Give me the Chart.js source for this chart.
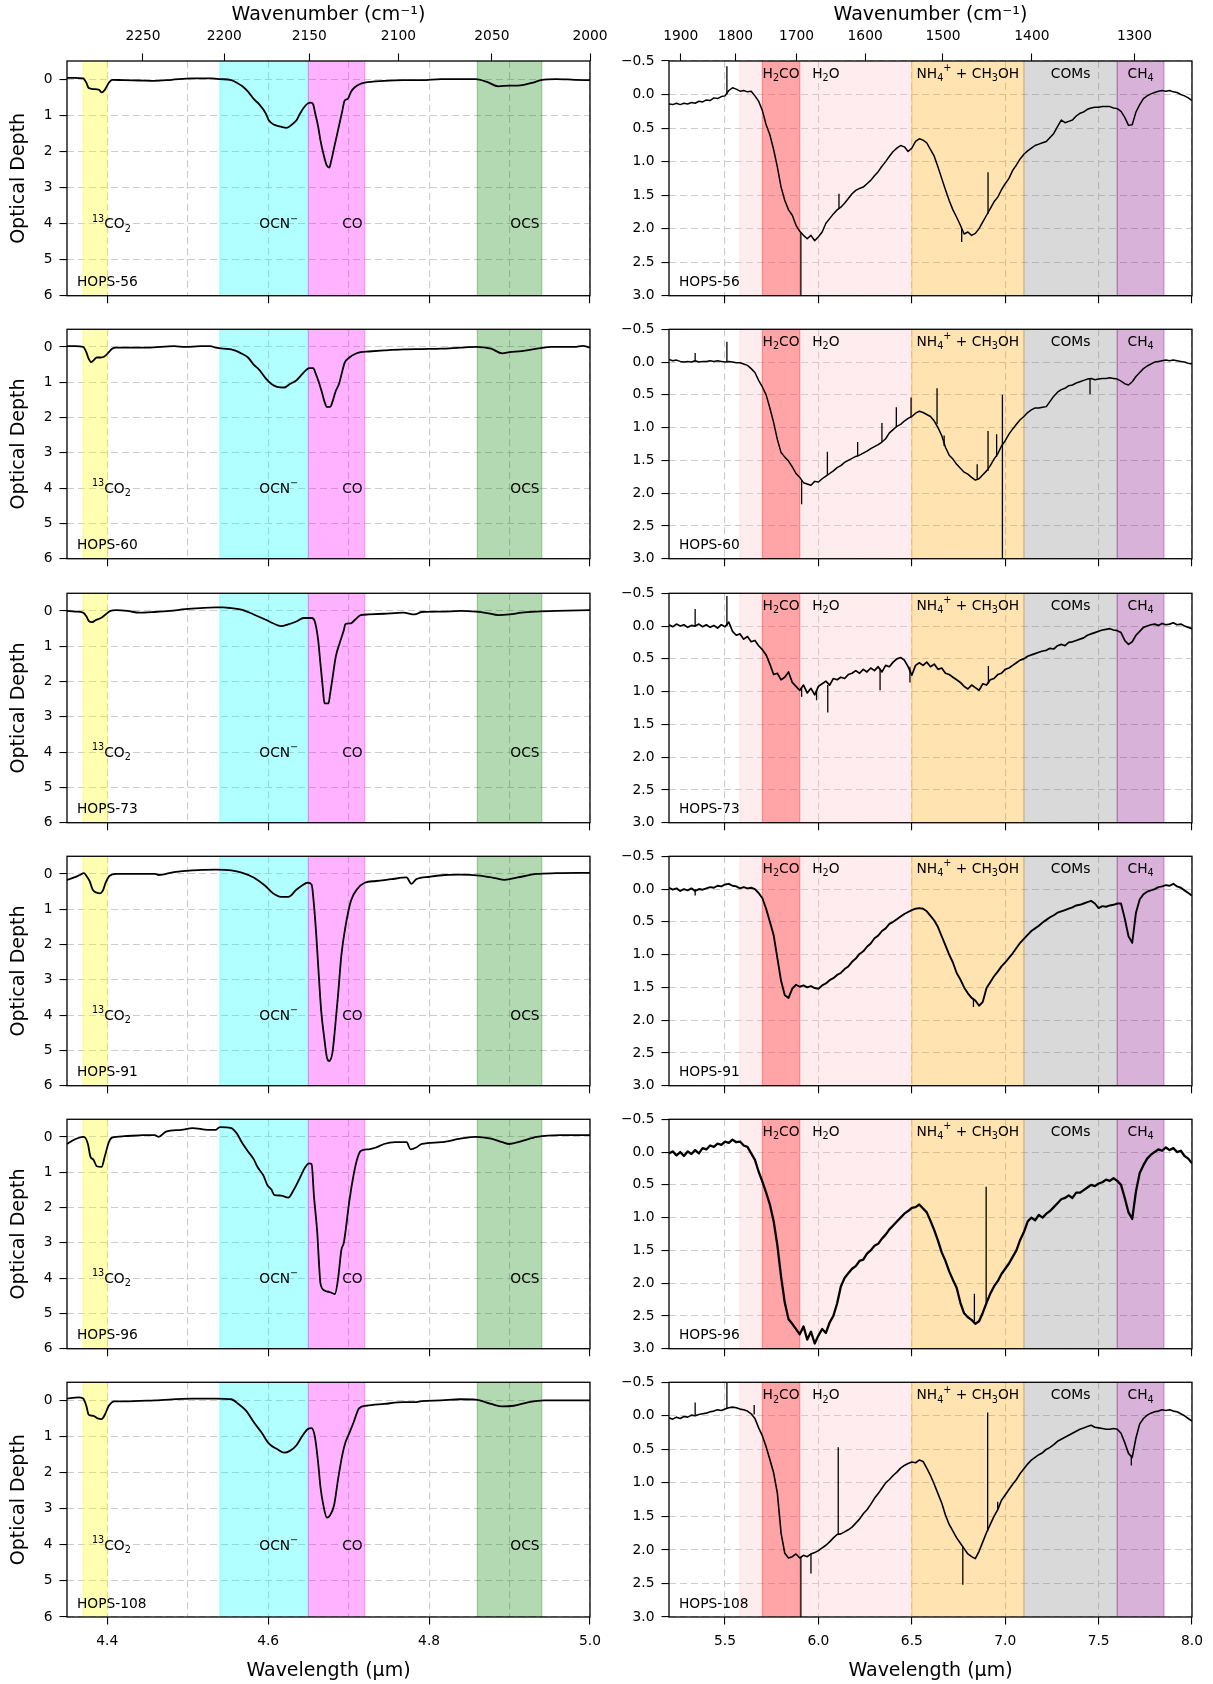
<!DOCTYPE html>
<html>
<head>
<meta charset="utf-8">
<title>Ice absorption features, HOPS protostars</title>
<script src="https://cdn.jsdelivr.net/npm/chart.js@4.4.0/dist/chart.umd.min.js"></script>
<style>
  body { margin: 0; background: #fff; }
  #figure { position: relative; width: 1213px; height: 1684px; background: #fff; overflow: hidden; }
  #figure canvas { position: absolute; }
</style>
</head>
<body>
<div id="figure"></div>
<script>
// Sources, one row each
const sources = ['HOPS-56', 'HOPS-60', 'HOPS-73', 'HOPS-91', 'HOPS-96', 'HOPS-108'];

// Axis ticks
const shortGridTicks = [4.4, 4.5, 4.6, 4.7, 4.8, 4.9, 5.0];
const shortLabelTicks = [4.4, 4.6, 4.8, 5.0];
const longTicks = [5.5, 6.0, 6.5, 7.0, 7.5, 8.0];
const shortWavenumbers = [2250, 2200, 2150, 2100, 2050, 2000];
const longWavenumbers = [1900, 1800, 1700, 1600, 1500, 1400, 1300];
const shortDepthTicks = [0, 1, 2, 3, 4, 5, 6];
const longDepthTicks = [-0.5, 0, 0.5, 1.0, 1.5, 2.0, 2.5, 3.0];

// Ice band ranges (micron) and their labels (_x = subscript, ^x = superscript)
const shortBands = [[4.37, 4.40], [4.54, 4.65], [4.65, 4.72], [4.86, 4.94]];
const shortBandNames = ['^{13}CO_2', 'OCN^\u2212', 'CO', 'OCS'];
const shortLabelX = [4.381, 4.589, 4.692, 4.901];
const longBands = [[5.58, 6.5], [5.7, 5.9], [6.5, 7.1], [7.1, 7.6], [7.6, 7.85]];
const longBandNames = ['H_2O', 'H_2CO', 'NH_4^+ + CH_3OH', 'COMs', 'CH_4'];

// 4.35 - 5.0 micron spectra
const shortWave56 = [4.35, 4.36, 4.37, 4.374, 4.377, 4.383, 4.39, 4.393, 4.397, 4.402, 4.406, 4.42, 4.44, 4.459, 4.48, 4.506, 4.53, 4.54, 4.554, 4.561, 4.568, 4.575, 4.582, 4.589, 4.597, 4.601, 4.608, 4.616, 4.623, 4.63, 4.635, 4.639, 4.644, 4.649, 4.653, 4.656, 4.658, 4.662, 4.665, 4.669, 4.673, 4.676, 4.678, 4.682, 4.687, 4.692, 4.695, 4.699, 4.703, 4.708, 4.713, 4.72, 4.744, 4.768, 4.791, 4.815, 4.839, 4.858, 4.872, 4.886, 4.9, 4.91, 4.92, 4.929, 4.939, 4.958, 4.981, 5.0];
const shortDepth56 = [-0.03, -0.03, -0.02, 0.1, 0.25, 0.28, 0.3, 0.37, 0.3, 0.1, 0.02, 0.03, 0.04, 0.05, 0.02, -0.02, -0.02, 0.0, 0.03, 0.1, 0.2, 0.35, 0.55, 0.7, 0.95, 1.15, 1.27, 1.32, 1.35, 1.25, 1.15, 0.98, 0.8, 0.68, 0.65, 0.7, 0.9, 1.3, 1.7, 2.1, 2.4, 2.45, 2.3, 1.9, 1.4, 0.9, 0.6, 0.55, 0.35, 0.22, 0.15, 0.1, 0.05, 0.03, 0.03, 0.0, 0.0, 0.0, 0.08, 0.2, 0.18, 0.18, 0.15, 0.1, 0.03, 0.0, 0.02, 0.03];

const shortWave60 = [4.35, 4.36, 4.37, 4.374, 4.377, 4.38, 4.383, 4.387, 4.392, 4.396, 4.402, 4.406, 4.411, 4.45, 4.483, 4.497, 4.516, 4.528, 4.535, 4.544, 4.554, 4.561, 4.568, 4.575, 4.582, 4.589, 4.597, 4.604, 4.611, 4.62, 4.627, 4.635, 4.642, 4.646, 4.651, 4.656, 4.659, 4.663, 4.667, 4.67, 4.673, 4.677, 4.68, 4.684, 4.688, 4.692, 4.695, 4.701, 4.708, 4.715, 4.725, 4.744, 4.768, 4.791, 4.815, 4.839, 4.858, 4.877, 4.891, 4.9, 4.915, 4.934, 4.953, 4.981, 4.991, 5.0];
const shortDepth60 = [-0.02, -0.02, 0.0, 0.15, 0.34, 0.43, 0.38, 0.3, 0.3, 0.28, 0.15, 0.05, 0.02, 0.02, -0.02, 0.0, -0.02, -0.02, 0.02, 0.05, 0.07, 0.12, 0.2, 0.3, 0.5, 0.65, 0.89, 1.05, 1.13, 1.15, 1.05, 0.95, 0.78, 0.68, 0.6, 0.6, 0.75, 1.0, 1.3, 1.55, 1.7, 1.7, 1.55, 1.25, 1.05, 0.7, 0.45, 0.3, 0.2, 0.15, 0.13, 0.1, 0.07, 0.06, 0.05, 0.02, 0.0, 0.05, 0.18, 0.15, 0.12, 0.05, 0.0, 0.0, -0.03, 0.02];

const shortWave73 = [4.35, 4.36, 4.37, 4.374, 4.377, 4.381, 4.385, 4.392, 4.398, 4.404, 4.411, 4.425, 4.44, 4.459, 4.478, 4.497, 4.516, 4.535, 4.544, 4.554, 4.568, 4.582, 4.597, 4.606, 4.616, 4.625, 4.635, 4.644, 4.654, 4.658, 4.662, 4.665, 4.668, 4.67, 4.675, 4.677, 4.68, 4.684, 4.689, 4.694, 4.696, 4.703, 4.708, 4.715, 4.725, 4.744, 4.768, 4.782, 4.791, 4.815, 4.839, 4.858, 4.872, 4.886, 4.9, 4.915, 4.934, 4.958, 5.0];
const shortDepth73 = [0.0, 0.02, 0.05, 0.15, 0.28, 0.32, 0.27, 0.2, 0.1, 0.0, -0.02, 0.0, 0.05, 0.03, 0.0, -0.05, -0.08, -0.1, -0.1, -0.08, -0.03, 0.1, 0.25, 0.35, 0.43, 0.38, 0.3, 0.2, 0.2, 0.3, 0.8, 1.5, 2.2, 2.62, 2.62, 2.35, 1.9, 1.3, 0.9, 0.55, 0.37, 0.35, 0.25, 0.12, 0.1, 0.08, 0.05, 0.1, 0.03, 0.02, 0.0, 0.02, 0.06, 0.12, 0.1, 0.05, 0.02, 0.0, -0.02];

const shortWave91 = [4.35, 4.359, 4.366, 4.371, 4.374, 4.378, 4.382, 4.387, 4.391, 4.395, 4.398, 4.403, 4.411, 4.43, 4.459, 4.464, 4.483, 4.506, 4.535, 4.554, 4.568, 4.582, 4.597, 4.606, 4.616, 4.625, 4.635, 4.644, 4.649, 4.654, 4.657, 4.66, 4.663, 4.666, 4.67, 4.673, 4.676, 4.68, 4.683, 4.687, 4.691, 4.696, 4.703, 4.711, 4.72, 4.734, 4.753, 4.772, 4.778, 4.784, 4.801, 4.82, 4.839, 4.863, 4.882, 4.894, 4.91, 4.934, 4.958, 5.0];
const shortDepth91 = [0.17, 0.1, 0.03, -0.02, 0.05, 0.2, 0.45, 0.53, 0.55, 0.45, 0.25, 0.05, 0.0, 0.0, 0.0, 0.03, -0.05, -0.1, -0.12, -0.1, -0.03, 0.1, 0.35, 0.55, 0.65, 0.65, 0.45, 0.3, 0.25, 0.3, 0.9, 1.8, 2.9, 3.9, 4.7, 5.2, 5.3, 5.05, 4.4, 3.4, 2.3, 1.5, 0.75, 0.42, 0.25, 0.2, 0.15, 0.1, 0.28, 0.15, 0.08, 0.03, 0.02, 0.05, 0.12, 0.17, 0.1, 0.0, -0.02, -0.03];

const shortWave96 = [4.35, 4.357, 4.364, 4.371, 4.376, 4.379, 4.383, 4.387, 4.393, 4.397, 4.402, 4.406, 4.421, 4.445, 4.459, 4.464, 4.473, 4.492, 4.506, 4.525, 4.535, 4.54, 4.554, 4.561, 4.568, 4.575, 4.582, 4.587, 4.594, 4.599, 4.604, 4.608, 4.616, 4.625, 4.632, 4.639, 4.646, 4.651, 4.654, 4.657, 4.661, 4.663, 4.665, 4.67, 4.677, 4.683, 4.687, 4.691, 4.694, 4.696, 4.701, 4.706, 4.711, 4.715, 4.725, 4.734, 4.744, 4.758, 4.772, 4.777, 4.784, 4.791, 4.815, 4.839, 4.858, 4.877, 4.891, 4.9, 4.915, 4.934, 4.963, 5.0];
const shortDepth96 = [0.2, 0.1, 0.03, 0.0, 0.2, 0.55, 0.65, 0.83, 0.85, 0.55, 0.15, 0.02, -0.02, -0.05, -0.05, 0.0, -0.15, -0.2, -0.25, -0.2, -0.2, -0.28, -0.25, -0.1, 0.18, 0.41, 0.63, 0.86, 1.09, 1.36, 1.49, 1.65, 1.66, 1.72, 1.49, 1.18, 0.86, 0.75, 0.77, 1.7, 2.7, 3.5, 4.15, 4.35, 4.4, 4.45, 4.0, 3.2, 3.0, 2.7, 1.8, 1.1, 0.6, 0.4, 0.35, 0.3, 0.2, 0.15, 0.15, 0.35, 0.3, 0.2, 0.15, 0.05, 0.0, 0.05, 0.15, 0.2, 0.12, 0.0, -0.05, -0.05];

const shortWave108 = [4.35, 4.364, 4.37, 4.374, 4.377, 4.383, 4.388, 4.393, 4.397, 4.402, 4.409, 4.421, 4.459, 4.506, 4.535, 4.554, 4.563, 4.573, 4.582, 4.592, 4.601, 4.611, 4.62, 4.627, 4.635, 4.642, 4.649, 4.654, 4.658, 4.662, 4.665, 4.669, 4.673, 4.677, 4.682, 4.687, 4.692, 4.696, 4.701, 4.706, 4.713, 4.722, 4.744, 4.768, 4.782, 4.791, 4.815, 4.839, 4.858, 4.877, 4.891, 4.905, 4.924, 4.943, 5.0];
const shortDepth108 = [-0.05, -0.08, -0.05, 0.15, 0.4, 0.43, 0.5, 0.52, 0.4, 0.15, 0.03, 0.03, 0.0, -0.05, -0.05, -0.03, 0.1, 0.3, 0.6, 0.9, 1.2, 1.35, 1.45, 1.4, 1.25, 1.0, 0.8, 0.77, 1.0, 1.7, 2.4, 2.95, 3.25, 3.18, 2.9, 2.17, 1.53, 1.17, 0.9, 0.62, 0.22, 0.15, 0.1, 0.05, 0.05, 0.02, 0.0, -0.03, -0.02, 0.1, 0.17, 0.15, 0.05, 0.0, 0.0];

// 5.2 - 8.0 micron spectra, sampled every 0.02 micron
const longWave = [
  5.20, 5.22, 5.24, 5.26, 5.28, 5.30, 5.32, 5.34, 5.36, 5.38,
  5.40, 5.42, 5.44, 5.46, 5.48, 5.50, 5.52, 5.54, 5.56, 5.58,
  5.60, 5.62, 5.64, 5.66, 5.68, 5.70, 5.72, 5.74, 5.76, 5.78,
  5.80, 5.82, 5.84, 5.86, 5.88, 5.90, 5.92, 5.94, 5.96, 5.98,
  6.00, 6.02, 6.04, 6.06, 6.08, 6.10, 6.12, 6.14, 6.16, 6.18,
  6.20, 6.22, 6.24, 6.26, 6.28, 6.30, 6.32, 6.34, 6.36, 6.38,
  6.40, 6.42, 6.44, 6.46, 6.48, 6.50, 6.52, 6.54, 6.56, 6.58,
  6.60, 6.62, 6.64, 6.66, 6.68, 6.70, 6.72, 6.74, 6.76, 6.78,
  6.80, 6.82, 6.84, 6.86, 6.88, 6.90, 6.92, 6.94, 6.96, 6.98,
  7.00, 7.02, 7.04, 7.06, 7.08, 7.10, 7.12, 7.14, 7.16, 7.18,
  7.20, 7.22, 7.24, 7.26, 7.28, 7.30, 7.32, 7.34, 7.36, 7.38,
  7.40, 7.42, 7.44, 7.46, 7.48, 7.50, 7.52, 7.54, 7.56, 7.58,
  7.60, 7.62, 7.64, 7.66, 7.68, 7.70, 7.72, 7.74, 7.76, 7.78,
  7.80, 7.82, 7.84, 7.86, 7.88, 7.90, 7.92, 7.94, 7.96, 7.98,
  8.00
];

const longDepth56 = [
  0.14, 0.15, 0.13, 0.15, 0.13, 0.14, 0.12, 0.13, 0.10, 0.11,
  0.08, 0.09, 0.05, 0.06, 0.03, 0.02, -0.06, -0.10, -0.08, -0.05,
  -0.06, -0.04, -0.05, 0.02, 0.10, 0.24, 0.45, 0.60, 0.82, 1.08,
  1.38, 1.58, 1.72, 1.80, 1.95, 2.04, 2.10, 2.15, 2.10, 2.18,
  2.12, 2.05, 1.92, 1.85, 1.78, 1.72, 1.68, 1.62, 1.55, 1.48,
  1.43, 1.40, 1.38, 1.33, 1.28, 1.21, 1.15, 1.07, 1.00, 0.92,
  0.85, 0.80, 0.76, 0.78, 0.85, 0.80, 0.70, 0.66, 0.68, 0.72,
  0.82, 0.92, 1.08, 1.25, 1.42, 1.58, 1.72, 1.83, 1.95, 2.08,
  2.05, 2.10, 2.07, 2.00, 1.90, 1.80, 1.70, 1.60, 1.53, 1.42,
  1.33, 1.25, 1.13, 1.05, 0.96, 0.89, 0.84, 0.80, 0.76, 0.74,
  0.72, 0.70, 0.64, 0.58, 0.48, 0.38, 0.42, 0.40, 0.38, 0.32,
  0.28, 0.26, 0.22, 0.20, 0.19, 0.19, 0.18, 0.18, 0.18, 0.20,
  0.21, 0.25, 0.34, 0.46, 0.45, 0.26, 0.15, 0.06, 0.02, -0.01,
  -0.03, -0.05, -0.06, -0.05, -0.06, -0.04, -0.03, 0.00, 0.02, 0.05,
  0.09
];

const longDepth60 = [
  -0.04, -0.02, -0.03, -0.01, 0.00, -0.01, 0.00, -0.02, 0.00, -0.01,
  -0.01, -0.02, -0.01, -0.02, -0.01, 0.00, -0.01, 0.00, 0.01, 0.01,
  0.03, 0.05, 0.10, 0.16, 0.28, 0.38, 0.50, 0.70, 0.92, 1.18,
  1.38, 1.45, 1.51, 1.60, 1.70, 1.76, 1.84, 1.86, 1.88, 1.82,
  1.83, 1.78, 1.74, 1.70, 1.66, 1.61, 1.58, 1.53, 1.50, 1.47,
  1.44, 1.42, 1.39, 1.36, 1.32, 1.29, 1.26, 1.22, 1.17, 1.08,
  1.03, 0.98, 0.95, 0.90, 0.86, 0.83, 0.78, 0.75, 0.77, 0.80,
  0.83, 0.90, 1.00, 1.12, 1.30, 1.42, 1.48, 1.56, 1.62, 1.68,
  1.71, 1.76, 1.80, 1.78, 1.72, 1.66, 1.58, 1.48, 1.40, 1.28,
  1.20, 1.10, 1.02, 0.95, 0.88, 0.83, 0.77, 0.73, 0.70, 0.70,
  0.69, 0.68, 0.60, 0.52, 0.46, 0.42, 0.40, 0.36, 0.35, 0.32,
  0.30, 0.28, 0.26, 0.25, 0.27, 0.26, 0.25, 0.25, 0.24, 0.25,
  0.26, 0.29, 0.33, 0.35, 0.30, 0.22, 0.16, 0.10, 0.06, 0.03,
  0.00, -0.01, -0.02, -0.03, -0.02, -0.03, -0.02, -0.01, 0.00, 0.02,
  0.03
];

const longDepth73 = [
  -0.02, 0.01, -0.03, 0.00, -0.02, 0.02, -0.01, 0.00, -0.03, 0.01,
  -0.02, 0.02, -0.01, 0.03, -0.02, 0.01, -0.06, 0.08, 0.14, 0.12,
  0.20, 0.16, 0.24, 0.22, 0.30, 0.36, 0.44, 0.58, 0.74, 0.72,
  0.82, 0.78, 0.70, 0.86, 0.92, 0.98, 0.90, 1.02, 0.95, 1.05,
  0.92, 0.88, 0.84, 0.90, 0.80, 0.82, 0.78, 0.80, 0.74, 0.72,
  0.68, 0.72, 0.66, 0.70, 0.64, 0.68, 0.62, 0.70, 0.60, 0.62,
  0.55, 0.50, 0.48, 0.52, 0.62, 0.75, 0.60, 0.56, 0.60, 0.55,
  0.62, 0.58, 0.66, 0.64, 0.72, 0.74, 0.78, 0.82, 0.86, 0.92,
  0.96, 0.90, 0.94, 0.98, 0.88, 0.90, 0.82, 0.80, 0.74, 0.72,
  0.66, 0.64, 0.60, 0.56, 0.52, 0.50, 0.46, 0.44, 0.42, 0.40,
  0.38, 0.37, 0.34, 0.35, 0.30, 0.28, 0.30, 0.25, 0.24, 0.22,
  0.20, 0.18, 0.14, 0.12, 0.10, 0.08, 0.06, 0.05, 0.04, 0.06,
  0.07, 0.10, 0.22, 0.28, 0.24, 0.14, 0.08, 0.02, 0.00, -0.02,
  -0.03, -0.01, -0.04, -0.02, -0.03, -0.05, -0.02, -0.03, 0.00, 0.02,
  0.04
];

const longDepth91 = [
  -0.02, 0.01, -0.01, 0.03, 0.00, 0.02, -0.01, 0.03, 0.00, 0.01,
  -0.01, -0.03, -0.02, -0.05, -0.04, -0.07, -0.08, -0.05, -0.04, -0.01,
  -0.03, -0.01, -0.02, 0.00, 0.06, 0.14, 0.30, 0.50, 0.70, 1.05,
  1.40, 1.62, 1.66, 1.52, 1.46, 1.49, 1.47, 1.50, 1.48, 1.51,
  1.52, 1.47, 1.44, 1.39, 1.36, 1.31, 1.28, 1.22, 1.18, 1.11,
  1.06, 0.99, 0.95, 0.88, 0.83, 0.75, 0.71, 0.64, 0.60, 0.53,
  0.50, 0.46, 0.42, 0.38, 0.35, 0.32, 0.30, 0.29, 0.30, 0.34,
  0.41, 0.48, 0.58, 0.72, 0.86, 1.00, 1.12, 1.28, 1.38, 1.50,
  1.59, 1.66, 1.70, 1.78, 1.72, 1.51, 1.42, 1.33, 1.26, 1.18,
  1.12, 1.05, 0.98, 0.90, 0.82, 0.76, 0.70, 0.64, 0.60, 0.56,
  0.51, 0.47, 0.43, 0.40, 0.36, 0.34, 0.32, 0.30, 0.28, 0.25,
  0.24, 0.22, 0.20, 0.18, 0.22, 0.29, 0.26, 0.27, 0.25, 0.24,
  0.22, 0.22, 0.45, 0.72, 0.82, 0.36, 0.16, 0.08, 0.04, 0.02,
  0.00, -0.03, -0.04, -0.06, -0.05, -0.08, -0.04, -0.02, 0.02, 0.06,
  0.10
];

const longDepth96 = [
  0.02, -0.01, 0.05, 0.00, 0.06, -0.01, 0.03, -0.03, 0.02, -0.06,
  -0.04, -0.10, -0.08, -0.13, -0.11, -0.16, -0.14, -0.19, -0.15, -0.16,
  -0.10, -0.08, 0.02, 0.12, 0.30, 0.45, 0.62, 0.80, 1.05, 1.42,
  1.90, 2.30, 2.55, 2.62, 2.70, 2.78, 2.66, 2.86, 2.74, 2.92,
  2.80, 2.70, 2.76, 2.60, 2.50, 2.31, 2.05, 1.92, 1.85, 1.78,
  1.74, 1.66, 1.64, 1.55, 1.50, 1.43, 1.40, 1.32, 1.26, 1.18,
  1.12, 1.06, 1.00, 0.94, 0.90, 0.85, 0.84, 0.80, 0.86, 0.92,
  1.05, 1.19, 1.35, 1.53, 1.66, 1.82, 1.95, 2.07, 2.30, 2.46,
  2.52, 2.56, 2.62, 2.58, 2.45, 2.30, 2.16, 2.05, 1.97, 1.86,
  1.78, 1.70, 1.60, 1.50, 1.34, 1.22, 1.06, 1.00, 1.04, 0.96,
  1.00, 0.94, 0.90, 0.84, 0.78, 0.72, 0.70, 0.66, 0.70, 0.62,
  0.62, 0.58, 0.54, 0.50, 0.52, 0.48, 0.46, 0.42, 0.44, 0.40,
  0.44, 0.50, 0.70, 0.92, 1.02, 0.60, 0.32, 0.20, 0.10, 0.04,
  0.00, -0.04, -0.02, -0.07, -0.03, -0.06, 0.00, -0.02, 0.06, 0.10,
  0.17
];

const longDepth108 = [
  0.03, 0.05, 0.02, 0.04, 0.01, 0.02, -0.01, 0.00, -0.02, -0.03,
  -0.04, -0.06, -0.07, -0.09, -0.08, -0.10, -0.12, -0.13, -0.12, -0.10,
  -0.09, -0.07, -0.03, 0.04, 0.18, 0.30, 0.46, 0.65, 0.85, 1.15,
  1.75, 2.05, 2.12, 2.10, 2.06, 2.12, 2.08, 2.10, 2.06, 2.04,
  2.01, 1.97, 1.93, 1.88, 1.82, 1.77, 1.76, 1.73, 1.70, 1.66,
  1.60, 1.54, 1.46, 1.40, 1.32, 1.23, 1.16, 1.08, 1.00, 0.95,
  0.89, 0.84, 0.78, 0.74, 0.71, 0.69, 0.70, 0.66, 0.68, 0.78,
  0.89, 1.02, 1.16, 1.30, 1.48, 1.62, 1.72, 1.82, 1.90, 1.98,
  2.06, 2.10, 2.13, 2.02, 1.88, 1.74, 1.62, 1.50, 1.40, 1.26,
  1.18, 1.10, 1.02, 0.95, 0.86, 0.79, 0.72, 0.66, 0.62, 0.58,
  0.55, 0.50, 0.47, 0.43, 0.38, 0.35, 0.32, 0.29, 0.26, 0.23,
  0.20, 0.18, 0.16, 0.14, 0.17, 0.18, 0.19, 0.20, 0.20, 0.19,
  0.20, 0.26, 0.40, 0.56, 0.62, 0.33, 0.12, 0.04, -0.01, -0.04,
  -0.06, -0.07, -0.09, -0.08, -0.09, -0.07, -0.06, -0.03, 0.00, 0.04,
  0.08
];

// Single-channel spikes: [wavelength, from, to]
const spikes56 = [[5.51, 0.0, -0.42], [5.906, 2.05, 3.2], [6.11, 1.7, 1.48], [6.767, 2.0, 2.2], [6.908, 1.78, 1.16]];
const spikes60 = [[5.34, -0.01, -0.14], [5.51, 0.0, -0.31], [5.91, 1.8, 2.17], [6.048, 1.72, 1.37], [6.21, 1.44, 1.22], [6.34, 1.22, 0.93], [6.417, 1.0, 0.69], [6.496, 0.84, 0.54], [6.635, 0.95, 0.4], [6.673, 1.28, 1.12], [6.85, 1.78, 1.56], [6.908, 1.66, 1.05], [6.954, 1.45, 1.1], [6.985, 0.5, 3.2], [7.454, 0.26, 0.49]];
const spikes73 = [[5.34, 0.0, -0.26], [5.51, 0.0, -0.46], [5.91, 0.95, 1.08], [5.99, 0.98, 1.13], [6.05, 0.9, 1.32], [6.33, 0.65, 0.98], [6.49, 0.62, 0.86], [6.91, 0.88, 0.61]];
const spikes91 = [[5.34, 0.0, 0.1], [6.83, 1.68, 1.8]];
const spikes96 = [[6.835, 2.58, 2.16], [6.898, 2.3, 0.53]];
const spikes108 = [[5.34, 0.0, -0.2], [5.51, -0.1, -0.49], [5.656, -0.02, -0.16], [5.906, 2.1, 3.2], [5.96, 2.06, 2.35], [6.106, 1.77, 0.47], [6.773, 1.95, 2.52], [6.906, 1.72, -0.05], [6.96, 1.4, 1.28], [7.675, 0.6, 0.74]];

const shortSeries = [
  [shortWave56, shortDepth56], [shortWave60, shortDepth60], [shortWave73, shortDepth73],
  [shortWave91, shortDepth91], [shortWave96, shortDepth96], [shortWave108, shortDepth108]
];
const longSeries = [longDepth56, longDepth60, longDepth73, longDepth91, longDepth96, longDepth108];
const longSpikes = [spikes56, spikes60, spikes73, spikes91, spikes96, spikes108];

// ---- styling and layout ----
Chart.defaults.font.family = "'DejaVu Sans', sans-serif";
Chart.defaults.color = '#000';

const FIG_H = 1684;
const ROW_TOPS = [61, 324, 588, 851, 1114, 1377];
const PLOT_H = 240;
const COLUMNS = [
  { left: 0, width: 640, plotLeft: 67, plotRight: 590 },
  { left: 600, width: 613, plotLeft: 669, plotRight: 1192 }
];
const GRID_COLOR = '#cccccc';
const TICK_FONT = { size: 13.8 };
const TITLE_FONT = { size: 19 };
const NOTE_SIZE = 13.8;
const SHORT_COLORS = ['rgba(255,255,0,0.3)', 'rgba(0,255,255,0.3)', 'rgba(255,0,255,0.3)', 'rgba(0,128,0,0.3)'];
const LONG_COLORS = ['rgba(255,192,203,0.3)', 'rgba(255,0,0,0.3)', 'rgba(255,165,0,0.3)', 'rgba(128,128,128,0.3)', 'rgba(128,0,128,0.3)'];
// noisier spectra get a heavier trace
const LONG_LINE_WIDTHS = [1.5, 1.5, 1.7, 1.9, 2.3, 1.6];

function near(list, v) {
  return list.some(t => Math.abs(t - v) < 1e-6);
}

function noteFont(size) {
  return size + "px 'DejaVu Sans', sans-serif";
}

// split "NH_4^+" style labels into normal / subscript / superscript runs
function parseLabel(s) {
  const parts = [];
  let buf = '';
  let i = 0;
  while (i < s.length) {
    const ch = s[i];
    if (ch === '_' || ch === '^') {
      if (buf) { parts.push({ text: buf, shift: 0 }); buf = ''; }
      let t;
      if (s[i + 1] === '{') {
        const end = s.indexOf('}', i);
        t = s.slice(i + 2, end);
        i = end + 1;
      } else {
        t = s[i + 1];
        i += 2;
      }
      parts.push({ text: t, shift: ch === '_' ? 1 : -1 });
    } else {
      buf += ch;
      i++;
    }
  }
  if (buf) parts.push({ text: buf, shift: 0 });
  return parts;
}

function drawLabel(ctx, label, x, yMid, align, size) {
  const parts = parseLabel(label);
  const small = size * 0.7;
  const widths = parts.map(p => {
    ctx.font = noteFont(p.shift ? small : size);
    return ctx.measureText(p.text).width;
  });
  const total = widths.reduce((a, b) => a + b, 0);
  let cx = align === 'center' ? x - total / 2 : x;
  const base = yMid + 0.36 * size;
  ctx.textAlign = 'left';
  ctx.textBaseline = 'alphabetic';
  parts.forEach((p, i) => {
    ctx.font = noteFont(p.shift ? small : size);
    const dy = p.shift === 1 ? 0.24 * size : p.shift === -1 ? -0.48 * size : 0;
    ctx.fillText(p.text, cx, base + dy);
    cx += widths[i];
  });
}

// shaded bands under the spectrum, labels + frame on top
function decorations(cfg) {
  return {
    id: 'decor',
    beforeDatasetsDraw(chart) {
      const { ctx, chartArea: a, scales: { x } } = chart;
      ctx.save();
      ctx.beginPath();
      ctx.rect(a.left, a.top, a.right - a.left, a.bottom - a.top);
      ctx.clip();
      cfg.bands.forEach((band, i) => {
        const x0 = x.getPixelForValue(band[0]);
        const x1 = x.getPixelForValue(band[1]);
        ctx.fillStyle = cfg.colors[i];
        ctx.fillRect(x0, a.top, x1 - x0, a.bottom - a.top);
        ctx.strokeStyle = cfg.colors[i];
        ctx.lineWidth = 1.3;
        ctx.beginPath();
        ctx.moveTo(x0, a.top); ctx.lineTo(x0, a.bottom);
        ctx.moveTo(x1, a.top); ctx.lineTo(x1, a.bottom);
        ctx.stroke();
      });
      ctx.restore();
    },
    afterDatasetsDraw(chart) {
      const { ctx, chartArea: a, scales: { x, y } } = chart;
      ctx.save();
      ctx.fillStyle = '#000';
      cfg.names.forEach((text, i) => {
        const band = cfg.bands[i];
        const at = cfg.labelX ? cfg.labelX[i] : (band[0] + band[1]) / 2;
        drawLabel(ctx, text, x.getPixelForValue(at), y.getPixelForValue(cfg.labelDepth), cfg.labelAlign, NOTE_SIZE);
      });
      ctx.font = noteFont(NOTE_SIZE);
      ctx.textAlign = 'left';
      ctx.textBaseline = 'middle';
      ctx.fillText(cfg.source, a.left + 10, a.bottom - 13);
      ctx.strokeStyle = '#000';
      ctx.lineWidth = 1.3;
      ctx.strokeRect(a.left, a.top, a.right - a.left, a.bottom - a.top);
      ctx.restore();
    }
  };
}

function buildPanel(row, col) {
  const isLong = col === 1;
  const first = row === 0;
  const last = row === ROW_TOPS.length - 1;
  const c = COLUMNS[col];
  const topArea = first ? ROW_TOPS[0] : 10;
  const bottomArea = last ? FIG_H - (ROW_TOPS[row] + PLOT_H) : 10;
  const height = topArea + PLOT_H + bottomArea;

  const canvas = document.createElement('canvas');
  canvas.width = c.width;
  canvas.height = height;
  canvas.style.left = c.left + 'px';
  canvas.style.top = (ROW_TOPS[row] - topArea) + 'px';
  canvas.style.width = c.width + 'px';
  canvas.style.height = height + 'px';
  document.getElementById('figure').appendChild(canvas);

  const xMin = isLong ? 5.2 : 4.35;
  const xMax = isLong ? 8.0 : 5.0;
  const xGrid = isLong ? longTicks : shortGridTicks;
  const xLabels = isLong ? longTicks : shortLabelTicks;

  let points;
  if (isLong) {
    points = longWave.map((w, i) => ({ x: w, y: longSeries[row][i] }));
  } else {
    const [wave, depth] = shortSeries[row];
    points = wave.map((w, i) => ({ x: w, y: depth[i] }));
  }

  const datasets = [{
    data: points,
    borderColor: '#000',
    borderWidth: isLong ? LONG_LINE_WIDTHS[row] : 1.8,
    borderJoinStyle: 'round',
    pointRadius: 0,
    tension: 0,
    cubicInterpolationMode: isLong ? 'default' : 'monotone',
    clip: 0,
    xAxisID: 'x',
    yAxisID: 'y'
  }];

  if (isLong) {
    const spikeData = [];
    longSpikes[row].forEach(([w, from, to]) => {
      spikeData.push({ x: w, y: from }, { x: w, y: to }, { x: w, y: null });
    });
    datasets.push({
      data: spikeData,
      borderColor: '#000',
      borderWidth: 1.3,
      pointRadius: 0,
      tension: 0,
      spanGaps: false,
      clip: 0,
      xAxisID: 'x',
      yAxisID: 'y'
    });
  }

  const scales = {
    x: {
      type: 'linear', position: 'bottom', min: xMin, max: xMax,
      afterBuildTicks: s => { s.ticks = xGrid.map(v => ({ value: v })); },
      afterFit: s => { s.height = bottomArea; },
      ticks: {
        display: last, autoSkip: false, maxRotation: 0, padding: 8.5, font: TICK_FONT, color: '#000',
        callback: v => near(xLabels, v) ? v.toFixed(1) : ''
      },
      grid: {
        color: GRID_COLOR, lineWidth: 1.1, tickLength: 7.5, tickWidth: 1.1,
        tickColor: ctx => (ctx.tick && near(xLabels, ctx.tick.value)) ? '#000' : 'rgba(0,0,0,0)'
      },
      border: { display: false, dash: [7, 4] },
      title: {
        display: last, text: 'Wavelength (μm)', font: TITLE_FONT, color: '#000',
        padding: { top: 0, bottom: 2 }
      }
    },
    y: {
      type: 'linear', position: 'left', reverse: true,
      min: -0.5, max: isLong ? 3.0 : 6,
      afterBuildTicks: s => { s.ticks = (isLong ? longDepthTicks : shortDepthTicks).map(v => ({ value: v })); },
      afterFit: s => { s.width = c.plotLeft - c.left; },
      ticks: {
        padding: 7, font: TICK_FONT, color: '#000',
        callback: v => isLong ? v.toFixed(1).replace('-', '\u2212') : String(v)
      },
      grid: { color: GRID_COLOR, lineWidth: 1.1, tickLength: 7.5, tickWidth: 1.1, tickColor: '#000' },
      border: { display: false, dash: [7, 4] },
      title: {
        display: !isLong, text: 'Optical Depth', font: TITLE_FONT, color: '#000',
        padding: { top: 7.9, bottom: 0 }
      }
    }
  };

  if (first) {
    const wavenumbers = isLong ? longWavenumbers : shortWavenumbers;
    scales.top = {
      type: 'linear', position: 'top', min: xMin, max: xMax,
      afterBuildTicks: s => { s.ticks = wavenumbers.map(n => ({ value: 1e4 / n })); },
      afterFit: s => { s.height = topArea; },
      ticks: {
        autoSkip: false, maxRotation: 0, padding: 8.5, font: TICK_FONT, color: '#000',
        callback: v => String(Math.round(1e4 / v))
      },
      grid: { drawOnChartArea: false, tickLength: 7.5, tickWidth: 1.1, tickColor: '#000' },
      border: { display: false },
      title: {
        display: true, text: 'Wavenumber (cm⁻¹)', font: TITLE_FONT, color: '#000',
        padding: { top: 3.6, bottom: 0 }
      }
    };
  }

  new Chart(canvas, {
    type: 'line',
    data: { datasets },
    options: {
      responsive: false,
      animation: false,
      devicePixelRatio: 1,
      events: [],
      layout: {
        padding: { left: 0, right: c.width - (c.plotRight - c.left), top: first ? 0 : 10, bottom: 0 }
      },
      plugins: { legend: { display: false }, tooltip: { enabled: false } },
      scales
    },
    plugins: [decorations({
      bands: isLong ? longBands : shortBands,
      names: isLong ? longBandNames : shortBandNames,
      labelX: isLong ? null : shortLabelX,
      colors: isLong ? LONG_COLORS : SHORT_COLORS,
      labelAlign: isLong ? 'center' : 'left',
      labelDepth: isLong ? -0.32 : 4,
      source: sources[row]
    })]
  });
}

sources.forEach((name, row) => {
  buildPanel(row, 0);
  buildPanel(row, 1);
});
</script>
</body>
</html>
